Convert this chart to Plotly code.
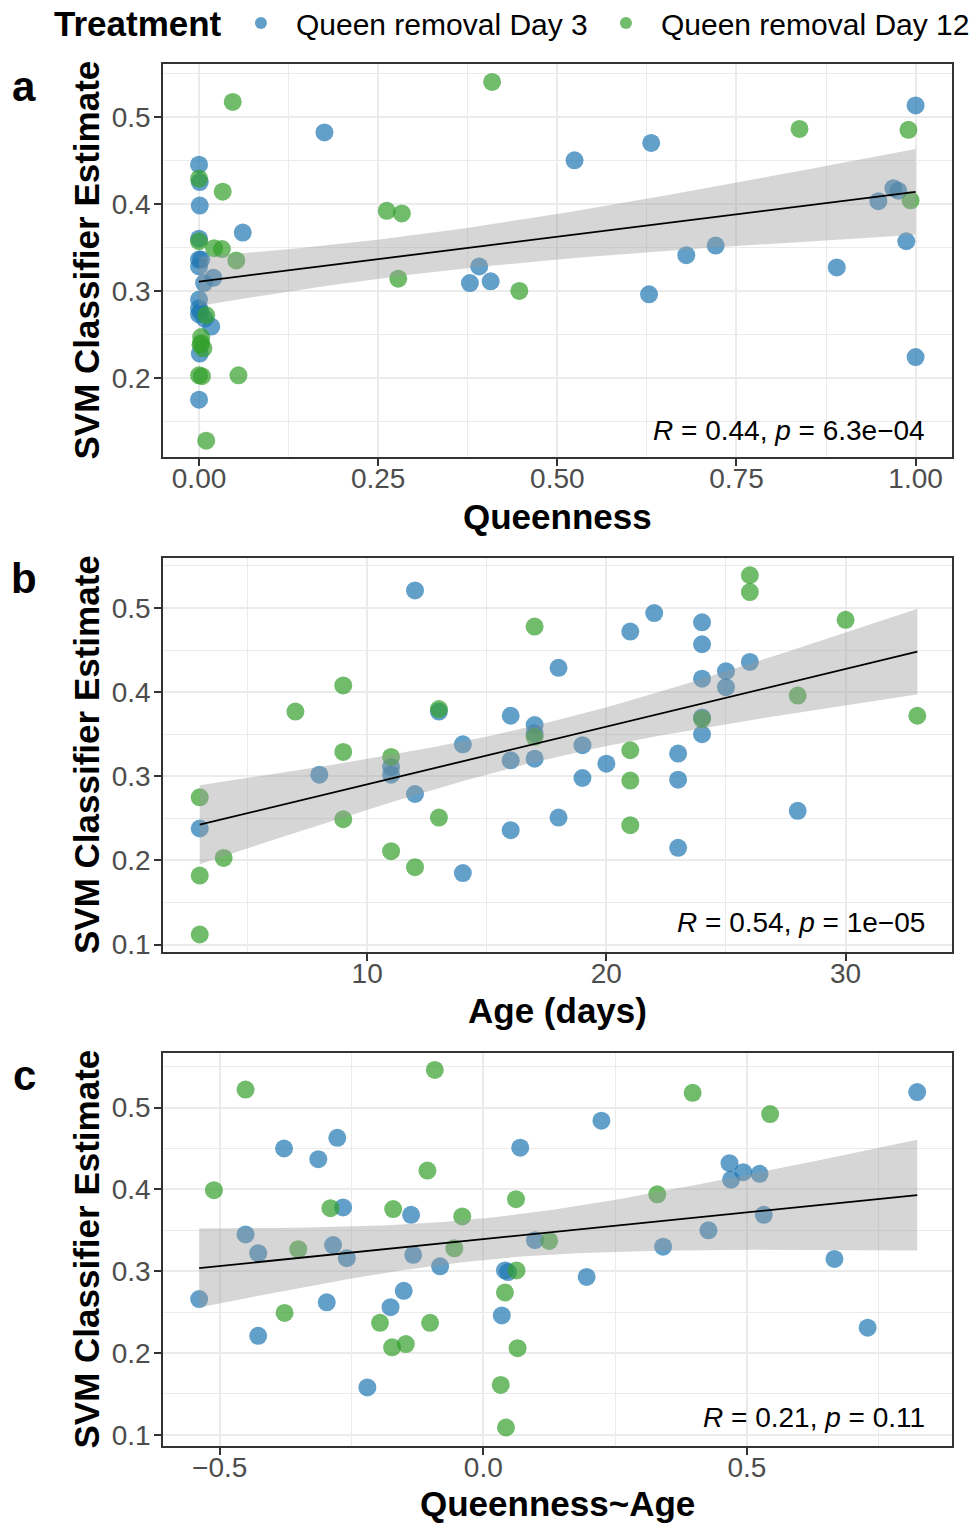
import numpy as np
import plotly.graph_objects as go

FONT = "Liberation Sans, Arial, sans-serif"
BLUE = "#1F78B4"
GREEN = "#33A02C"
GROUPS = ["Queen removal Day 3", "Queen removal Day 12"]

# ---- panel a: SVM estimate vs queenness ----
queen_d3 = [0.000, 0.001, 0.001, 0.000, 0.061, 0.000, 0.003, 0.000, 0.020, 0.007,
            0.000, 0.000, 0.000, 0.008, 0.017, 0.001, 0.000, 0.175, 0.391, 0.378,
            0.407, 0.524, 0.631, 0.628, 0.680, 0.721, 0.890, 0.948, 0.969, 0.976,
            1.000, 0.987, 1.000, 0.002]
svm_a_d3 = [0.445, 0.425, 0.398, 0.360, 0.367, 0.336, 0.336, 0.328, 0.315, 0.309,
            0.290, 0.280, 0.273, 0.268, 0.259, 0.228, 0.175, 0.482, 0.328, 0.309,
            0.311, 0.450, 0.470, 0.296, 0.341, 0.352, 0.327, 0.403, 0.418, 0.415,
            0.513, 0.357, 0.224, 0.276]
queen_d12 = [0.000, 0.033, 0.047, 0.000, 0.021, 0.032, 0.052, 0.010, 0.003, 0.003,
             0.006, 0.000, 0.004, 0.055, 0.010, 0.409, 0.262, 0.283, 0.278, 0.447,
             0.838, 0.990, 0.993, 0.002]
svm_a_d12 = [0.429, 0.414, 0.517, 0.357, 0.349, 0.348, 0.335, 0.272, 0.247, 0.240,
             0.234, 0.203, 0.202, 0.203, 0.128, 0.540, 0.392, 0.389, 0.314, 0.300,
             0.486, 0.485, 0.404, 0.238]

# ---- panel b: SVM estimate vs age ----
age_d3 = [12, 18, 3, 8, 11, 11, 12, 13, 14, 14, 16, 16, 16, 17, 17, 17, 18, 19, 19,
          20, 21, 22, 23, 23, 23, 24, 24, 24, 24, 24, 25, 25, 26, 28]
svm_b_d3 = [0.521, 0.429, 0.238, 0.302, 0.311, 0.302, 0.279, 0.377, 0.338, 0.185,
            0.372, 0.319, 0.236, 0.361, 0.351, 0.321, 0.251, 0.337, 0.298, 0.315,
            0.472, 0.494, 0.327, 0.296, 0.215, 0.483, 0.457, 0.416, 0.350, 0.370,
            0.425, 0.406, 0.436, 0.259]
age_d12 = [17, 9, 7, 13, 9, 11, 17, 3, 9, 13, 4, 3, 11, 12, 3, 26, 26, 30, 28, 33,
           24, 21, 21, 21]
svm_b_d12 = [0.478, 0.408, 0.377, 0.380, 0.329, 0.323, 0.347, 0.275, 0.249, 0.251,
             0.203, 0.182, 0.211, 0.192, 0.112, 0.539, 0.519, 0.486, 0.396, 0.372,
             0.368, 0.331, 0.295, 0.242]

# ---- panel c: SVM estimate vs queenness~age residual ----
resid_d3 = [-0.277, -0.378, -0.313, 0.070, -0.266, -0.137, -0.451, -0.427, -0.285,
            -0.259, -0.133, -0.082, 0.098, 0.041, 0.047, -0.539, -0.297, -0.151,
            -0.176, 0.035, -0.427, -0.220, 0.224, 0.823, 0.467, 0.493, 0.524, 0.470,
            0.532, 0.427, 0.341, 0.196, 0.666, 0.729]
svm_c_d3 = [0.463, 0.450, 0.437, 0.451, 0.378, 0.369, 0.345, 0.322, 0.332, 0.316,
            0.320, 0.306, 0.338, 0.301, 0.299, 0.266, 0.262, 0.276, 0.256, 0.246,
            0.221, 0.158, 0.484, 0.519, 0.432, 0.421, 0.419, 0.412, 0.369, 0.350,
            0.330, 0.293, 0.315, 0.231]
resid_d12 = [-0.451, -0.092, -0.511, -0.106, -0.290, -0.171, -0.040, 0.062, -0.351,
             -0.055, 0.125, 0.063, 0.041, -0.377, -0.196, -0.101, -0.173, -0.147,
             0.065, 0.033, 0.043, 0.397, 0.544, 0.330]
svm_c_d12 = [0.522, 0.546, 0.399, 0.423, 0.377, 0.376, 0.367, 0.388, 0.327, 0.328,
             0.337, 0.301, 0.274, 0.249, 0.237, 0.237, 0.207, 0.211, 0.206, 0.161,
             0.109, 0.518, 0.492, 0.394]

cor_labels = ["<i>R</i> = 0.44, <i>p</i> = 6.3e\u221204",
              "<i>R</i> = 0.54, <i>p</i> = 1e\u221205",
              "<i>R</i> = 0.21, <i>p</i> = 0.11"]
x_titles = ["Queenness", "Age (days)", "Queenness~Age"]
panel_tags = ["a", "b", "c"]


def t_quantile(df, z=1.959964):
    # Cornish-Fisher expansion of the Student t 97.5% quantile
    return (z + (z**3 + z) / (4 * df)
            + (5 * z**5 + 16 * z**3 + 3 * z) / (96 * df**2))


def linear_fit(x, y, n=100):
    x = np.asarray(x, float)
    y = np.asarray(y, float)
    m = len(x)
    slope, intercept = np.polyfit(x, y, 1)
    xs = np.linspace(x.min(), x.max(), n)
    resid = y - (intercept + slope * x)
    s = np.sqrt(np.sum(resid ** 2) / (m - 2))
    sxx = np.sum((x - x.mean()) ** 2)
    se = s * np.sqrt(1 / m + (xs - x.mean()) ** 2 / sxx)
    fit = intercept + slope * xs
    t = t_quantile(m - 2)
    return xs, fit, fit - t * se, fit + t * se


panels = [
    (queen_d3, svm_a_d3, queen_d12, svm_a_d12),
    (age_d3, svm_b_d3, age_d12, svm_b_d12),
    (resid_d3, svm_c_d3, resid_d12, svm_c_d12),
]

# plot-area geometry (pixels)
W, H = 974, 1523
L, R, T, B = 163, 22, 64, 77
PH = H - T - B
PW = W - L - R
bottom_px = H - B


def py(p):
    return (bottom_px - p) / PH


def px(p):
    return (p - L) / PW


y_domains = [[py(457), 1.0], [py(952), py(558)], [0.0, py(1053)]]
x_ranges = [[-0.0503, 1.0508], [1.464, 34.45], [-0.6076, 0.889]]
y_ranges = [[0.1092, 0.5606], [0.0912, 0.5595], [0.0864, 0.5667]]
x_major = [dict(tick0=0, dtick=0.25, tickformat=".2f"),
           dict(tick0=0, dtick=10, tickformat="d"),
           dict(tick0=0, dtick=0.5, tickformat=".1f")]
x_minor = [0.125, 5, 0.25]

fig = go.Figure()

for i, (x3, y3, x12, y12) in enumerate(panels):
    ax = "" if i == 0 else str(i + 1)
    xref, yref = "x" + ax, "y" + ax
    for gx, gy, col, name in [(x3, y3, BLUE, GROUPS[0]), (x12, y12, GREEN, GROUPS[1])]:
        fig.add_trace(go.Scatter(
            x=gx, y=gy, mode="markers", name="\u2002" + name, legendgroup=name,
            showlegend=(i == 0), xaxis=xref, yaxis=yref,
            marker=dict(color=col, size=18, opacity=0.7, line=dict(width=0)),
            hoverinfo="skip"))
    xs, fit, lo, hi = linear_fit(list(x3) + list(x12), list(y3) + list(y12))
    fig.add_trace(go.Scatter(
        x=np.concatenate([xs, xs[::-1]]), y=np.concatenate([hi, lo[::-1]]),
        fill="toself", fillcolor="rgba(153,153,153,0.4)", line=dict(width=0),
        mode="lines", showlegend=False, xaxis=xref, yaxis=yref, hoverinfo="skip"))
    fig.add_trace(go.Scatter(
        x=xs, y=fit, mode="lines", line=dict(color="black", width=1.8),
        showlegend=False, xaxis=xref, yaxis=yref, hoverinfo="skip"))

    common = dict(showline=True, mirror=True, linecolor="#333333", linewidth=1.6,
                  ticks="outside", ticklen=7, tickwidth=1.6, tickcolor="#333333",
                  showgrid=True, gridcolor="#EBEBEB", gridwidth=2, zeroline=False,
                  tickfont=dict(family=FONT, size=28, color="#4D4D4D"))
    fig.layout["xaxis" + ax] = dict(
        common, domain=[0, 1], anchor=yref, range=x_ranges[i], **x_major[i],
        ticklabelstandoff=-11,
        minor=dict(dtick=x_minor[i], showgrid=True, gridcolor="#EBEBEB",
                   gridwidth=1.2, ticks=""))
    fig.layout["yaxis" + ax] = dict(
        common, domain=y_domains[i], anchor=xref, range=y_ranges[i],
        tick0=0, dtick=0.1, tickformat=".1f", ticklabelstandoff=-2,
        minor=dict(dtick=0.05, showgrid=True, gridcolor="#EBEBEB",
                   gridwidth=1.2, ticks=""))

# text positions (pixels)
x_title_y = [516, 1010, 1503]
panel_mid = [260.5, 755, 1249.5]
cor_y = [430, 923, 1417]
tag_y = [86, 578, 1075]

ann = []
for i in range(3):
    ann.append(dict(text=f"<b>{x_titles[i]}</b>", x=px(557.5), y=py(x_title_y[i]),
                    xref="paper", yref="paper", showarrow=False,
                    xanchor="center", yanchor="middle",
                    font=dict(family=FONT, size=35, color="black")))
    ann.append(dict(text="<b>SVM Classifier Estimate</b>", x=px(86), y=py(panel_mid[i]),
                    xref="paper", yref="paper", showarrow=False, textangle=-90,
                    xanchor="center", yanchor="middle",
                    font=dict(family=FONT, size=35, color="black")))
    ann.append(dict(text=cor_labels[i], x=px(927), y=py(cor_y[i]),
                    xref="paper", yref="paper", showarrow=False,
                    xanchor="right", yanchor="middle",
                    font=dict(family=FONT, size=28, color="black")))
    ann.append(dict(text=f"<b>{panel_tags[i]}</b>", x=px(24), y=py(tag_y[i]),
                    xref="paper", yref="paper", showarrow=False,
                    xanchor="center", yanchor="middle",
                    font=dict(family=FONT, size=42, color="black")))

fig.update_layout(
    width=W, height=H, autosize=False,
    margin=dict(l=L, r=R, t=T, b=B, pad=0, autoexpand=False),
    paper_bgcolor="white", plot_bgcolor="white",
    font=dict(family=FONT, color="black"),
    annotations=ann,
    legend=dict(orientation="h", x=px(52), xanchor="left", y=py(-3), yanchor="top",
                title=dict(text="<b><span style='font-size:35px'>Treatment\u2004</span></b>",
                           side="left",
                           font=dict(family=FONT, size=30, color="black")),
                font=dict(family=FONT, size=30, color="black"),
                itemsizing="constant", bgcolor="rgba(0,0,0,0)",
                entrywidth=320, entrywidthmode="pixels",
                tracegroupgap=0),
)

fig.write_html("out.html")
